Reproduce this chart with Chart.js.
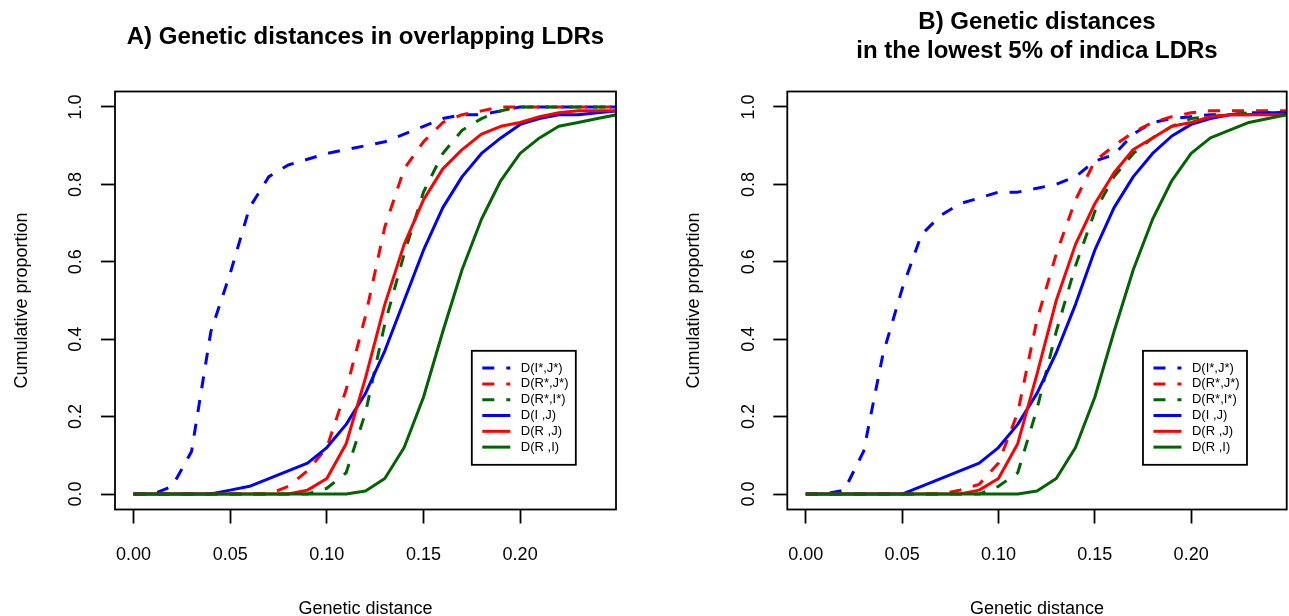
<!DOCTYPE html>
<html>
<head>
<meta charset="utf-8">
<script src="https://cdn.jsdelivr.net/npm/chart.js@4.4.1/dist/chart.umd.min.js"></script>
<style>
    body { margin: 0; width: 1289px; height: 616px; overflow: hidden; background: #fff; }
    .panel { position: absolute; top: 0; width: 672px; height: 616px; }
</style>
</head>
<body>
<div class="panel" style="left:0"><canvas id="chartA" width="672" height="616"></canvas></div>
<div class="panel" style="left:672px"><canvas id="chartB" width="672" height="616"></canvas></div>
<script>
// genetic distance grid (0 to 0.25 by 0.01)
const distances = [0.00, 0.01, 0.02, 0.03, 0.04, 0.05, 0.06, 0.07, 0.08, 0.09,
                   0.10, 0.11, 0.12, 0.13, 0.14, 0.15, 0.16, 0.17, 0.18, 0.19,
                   0.20, 0.21, 0.22, 0.23, 0.24, 0.25];

const seriesNames = ['D(I*,J*)', 'D(R*,J*)', 'D(R*,I*)', 'D(I ,J)', 'D(R ,J)', 'D(R ,I)'];
const seriesColors = ['#0000ff', '#ff0000', '#006400', '#0000ff', '#ff0000', '#006400'];
const dashedSeries = [true, true, true, false, false, false];

const xTicks = [0.00, 0.05, 0.10, 0.15, 0.20];
const yTicks = [0.0, 0.2, 0.4, 0.6, 0.8, 1.0];

// A) overlapping LDRs - cumulative proportions
const overlapIJstar = [0, 0, 0.02, 0.11, 0.42, 0.57, 0.74, 0.82, 0.85, 0.865, 0.88, 0.89, 0.90, 0.91, 0.93, 0.95, 0.97, 0.98, 0.98, 0.99, 1, 1, 1, 1, 1, 1];
const overlapRJstar = [0, 0, 0, 0, 0, 0, 0, 0, 0.02, 0.06, 0.12, 0.27, 0.46, 0.69, 0.84, 0.91, 0.96, 0.98, 0.99, 1, 1, 1, 1, 1, 1, 1];
const overlapRIstar = [0, 0, 0, 0, 0, 0, 0, 0, 0, 0, 0.015, 0.055, 0.21, 0.44, 0.62, 0.78, 0.88, 0.94, 0.97, 0.99, 1, 1, 1, 1, 1, 1];
const overlapIJ = [0, 0, 0, 0, 0, 0.01, 0.02, 0.04, 0.06, 0.08, 0.12, 0.18, 0.26, 0.37, 0.50, 0.63, 0.74, 0.82, 0.88, 0.92, 0.955, 0.97, 0.98, 0.98, 0.985, 0.99];
const overlapRJ = [0, 0, 0, 0, 0, 0, 0, 0, 0, 0.01, 0.04, 0.13, 0.30, 0.49, 0.645, 0.76, 0.84, 0.89, 0.93, 0.95, 0.96, 0.975, 0.985, 0.99, 0.99, 0.99];
const overlapRI = [0, 0, 0, 0, 0, 0, 0, 0, 0, 0, 0, 0, 0.008, 0.04, 0.12, 0.25, 0.42, 0.58, 0.71, 0.81, 0.88, 0.92, 0.95, 0.96, 0.97, 0.98];

// B) lowest 5% of indica LDRs - cumulative proportions
const lowIJstar = [0, 0, 0.01, 0.11, 0.36, 0.53, 0.67, 0.72, 0.75, 0.765, 0.78, 0.78, 0.79, 0.80, 0.82, 0.86, 0.877, 0.93, 0.96, 0.97, 0.975, 0.98, 0.98, 0.985, 0.985, 0.985];
const lowRJstar = [0, 0, 0, 0, 0, 0, 0, 0, 0.01, 0.025, 0.08, 0.21, 0.45, 0.62, 0.76, 0.86, 0.90, 0.935, 0.96, 0.975, 0.985, 0.99, 0.99, 0.99, 0.99, 0.99];
const lowRIstar = [0, 0, 0, 0, 0, 0, 0, 0, 0, 0, 0.02, 0.055, 0.22, 0.42, 0.59, 0.73, 0.82, 0.88, 0.92, 0.95, 0.97, 0.975, 0.98, 0.985, 0.985, 0.985];
const lowIJ = [0, 0, 0, 0, 0, 0, 0.02, 0.04, 0.06, 0.08, 0.12, 0.18, 0.26, 0.365, 0.49, 0.63, 0.74, 0.82, 0.88, 0.925, 0.955, 0.97, 0.98, 0.98, 0.985, 0.985];
const lowRJ = [0, 0, 0, 0, 0, 0, 0, 0, 0, 0.01, 0.04, 0.13, 0.31, 0.50, 0.645, 0.75, 0.83, 0.89, 0.92, 0.95, 0.96, 0.975, 0.98, 0.98, 0.98, 0.98];
const lowRI = [0, 0, 0, 0, 0, 0, 0, 0, 0, 0, 0, 0, 0.008, 0.04, 0.12, 0.25, 0.42, 0.58, 0.71, 0.81, 0.88, 0.92, 0.94, 0.96, 0.97, 0.98];

Chart.defaults.font.family = '"Liberation Sans", Arial, Helvetica, sans-serif';
Chart.defaults.color = '#000';

// frame around the plotting region
const plotBox = {
    id: 'plotBox',
    afterDraw(chart) {
        const { ctx, chartArea: a } = chart;
        ctx.save();
        ctx.strokeStyle = '#000';
        ctx.lineWidth = 1.8;
        ctx.strokeRect(a.left, a.top, a.right - a.left, a.bottom - a.top);
        ctx.restore();
    }
};

// boxed legend anchored at a data position (top-left corner)
const boxLegend = {
    id: 'boxLegend',
    afterDraw(chart, args, opts) {
        const { ctx, scales } = chart;
        const left = scales.x.getPixelForValue(opts.x);
        const top = scales.y.getPixelForValue(opts.y);
        const w = 104, h = 114;
        ctx.save();
        ctx.fillStyle = '#fff';
        ctx.fillRect(left, top, w, h);
        ctx.strokeStyle = '#000';
        ctx.lineWidth = 1.8;
        ctx.strokeRect(left, top, w, h);
        ctx.font = '13px "Liberation Sans", Arial, sans-serif';
        ctx.textBaseline = 'middle';
        chart.data.datasets.forEach((ds, i) => {
            const y = top + 17.3 + i * 15.8;
            ctx.beginPath();
            ctx.setLineDash(ds.borderDash || []);
            ctx.lineWidth = ds.borderWidth;
            ctx.strokeStyle = ds.borderColor;
            ctx.moveTo(left + 10.5, y);
            ctx.lineTo(left + 38.5, y);
            ctx.stroke();
            ctx.setLineDash([]);
            ctx.fillStyle = '#000';
            ctx.fillText(ds.label, left + 49, y);
        });
        ctx.restore();
    }
};

function makeDatasets(series) {
    return series.map((values, i) => ({
        label: seriesNames[i],
        data: distances.map((d, j) => ({ x: d, y: values[j] })),
        borderColor: seriesColors[i],
        borderDash: dashedSeries[i] ? [12, 12] : [],
        borderWidth: 3,
        borderJoinStyle: 'round',
        pointRadius: 0,
        tension: 0,
        fill: false,
        order: series.length - i
    }));
}

function makeChart(id, titleText, titlePad, rightPad, yWidth, series) {
    return new Chart(document.getElementById(id), {
        type: 'line',
        data: { datasets: makeDatasets(series) },
        options: {
            responsive: false,
            animation: false,
            layout: { padding: { left: 0, right: rightPad, top: 0, bottom: 0 } },
            plugins: {
                legend: { display: false },
                tooltip: { enabled: false },
                title: {
                    display: true,
                    fullSize: false,
                    text: titleText,
                    color: '#000',
                    font: { size: 24, weight: 'bold', lineHeight: 1.1875 },
                    padding: titlePad
                },
                boxLegend: { x: 0.175, y: 0.37 }
            },
            scales: {
                x: {
                    type: 'linear',
                    min: -0.0096,
                    max: 0.2496,
                    afterBuildTicks: s => { s.ticks = xTicks.map(v => ({ value: v })); },
                    afterFit: s => { s.height = 106.5; },
                    border: { display: false },
                    grid: { drawOnChartArea: false, drawTicks: true, tickLength: 14, tickWidth: 1.8, tickColor: '#000' },
                    ticks: {
                        padding: 21,
                        font: { size: 18 },
                        color: '#000',
                        maxRotation: 0,
                        callback: v => v.toFixed(2)
                    },
                    title: {
                        display: true,
                        text: 'Genetic distance',
                        color: '#000',
                        font: { size: 18 },
                        padding: { top: 0, bottom: -4 }
                    }
                },
                y: {
                    type: 'linear',
                    min: -0.04,
                    max: 1.04,
                    afterBuildTicks: s => { s.ticks = yTicks.map(v => ({ value: v })); },
                    afterFit: s => { s.width = yWidth; },
                    border: { display: false },
                    grid: { drawOnChartArea: false, drawTicks: true, tickLength: 14, tickWidth: 1.8, tickColor: '#000' },
                    ticks: {
                        minRotation: 90,
                        maxRotation: 90,
                        crossAlign: 'center',
                        padding: 12,
                        font: { size: 18 },
                        color: '#000',
                        callback: v => v.toFixed(1)
                    },
                    title: {
                        display: true,
                        text: 'Cumulative proportion',
                        color: '#000',
                        font: { size: 18 },
                        padding: { top: 11, bottom: 0 }
                    }
                }
            }
        },
        plugins: [plotBox, boxLegend]
    });
}

makeChart('chartA', 'A) Genetic distances in overlapping LDRs',
    { top: 23, bottom: 40 }, 56, 115,
    [overlapIJstar, overlapRJstar, overlapRIstar, overlapIJ, overlapRJ, overlapRI]);

makeChart('chartB', ['B) Genetic distances', 'in the lowest 5% of indica LDRs'],
    { top: 8.25, bottom: 26.25 }, 57.3, 115.3,
    [lowIJstar, lowRJstar, lowRIstar, lowIJ, lowRJ, lowRI]);
</script>
</body>
</html>
